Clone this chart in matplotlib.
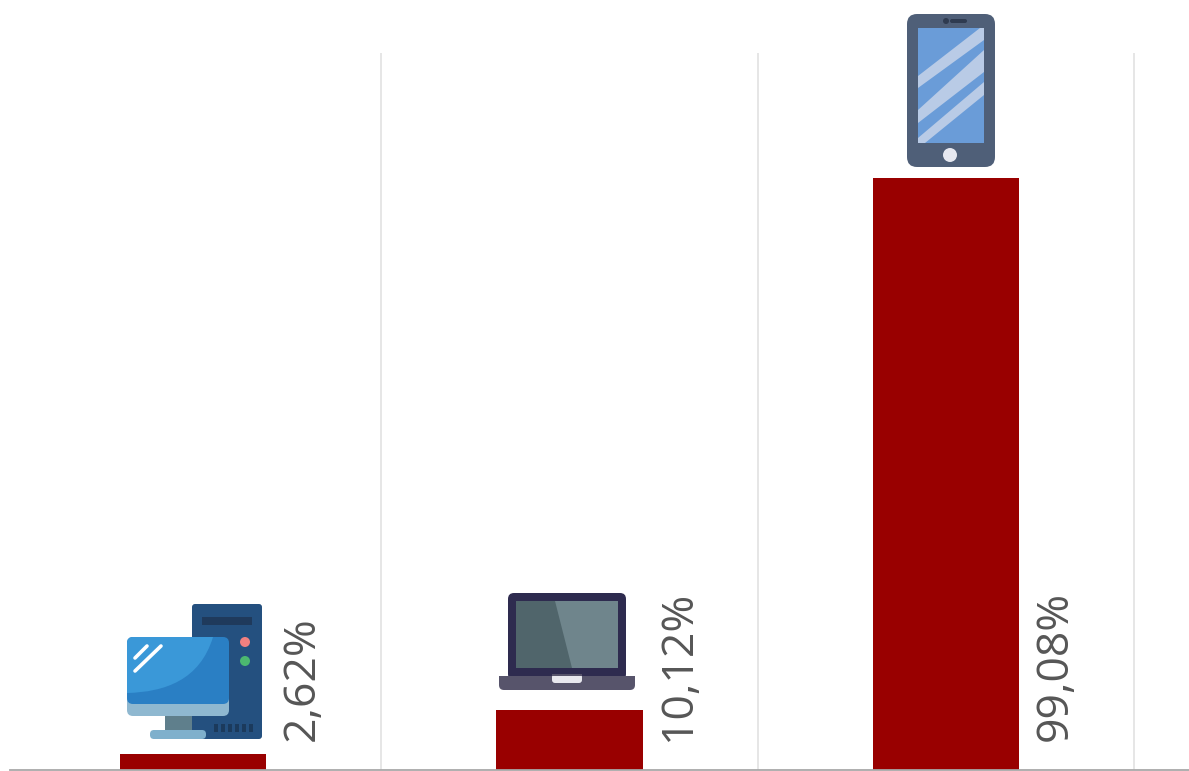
import matplotlib
matplotlib.use("Agg")
import matplotlib.pyplot as plt
from matplotlib.patches import Circle, FancyBboxPatch, PathPatch, Polygon, Rectangle
from matplotlib.path import Path

devices = ["Desktop", "Notebook", "Smartphone"]
shares = [2.62, 10.12, 99.08]
share_labels = ["2,62%", "10,12%", "99,08%"]

BAR_RED = "#990000"
TEXT_GREY = "#565656"
W, H = 1189, 771


def rounded(ax, x0, y0, x1, y1, radius, color, zorder=3):
    box = FancyBboxPatch((x0 + radius, y0 + radius), x1 - x0 - 2 * radius, y1 - y0 - 2 * radius,
                         boxstyle=f"round,pad={radius},rounding_size={radius}",
                         fc=color, ec="none", zorder=zorder)
    ax.add_patch(box)
    return box


def draw_desktop(ax):
    # tower
    rounded(ax, 192, 604, 262, 739, 3, "#24507f")
    ax.add_patch(Rectangle((202, 617), 50, 8, fc="#1f3a5c", ec="none", zorder=3))
    ax.add_patch(Circle((245, 642), 5, fc="#f08080", ec="none", zorder=3))
    ax.add_patch(Circle((245, 661), 5, fc="#4cb870", ec="none", zorder=3))
    for vent_x in range(214, 256, 7):
        ax.add_patch(Rectangle((vent_x, 724), 4, 8, fc="#1b3a5c", ec="none", zorder=3))
    # stand
    ax.add_patch(Rectangle((165, 714), 27, 17, fc="#5f7f8c", ec="none", zorder=3))
    rounded(ax, 150, 730, 206, 739, 4, "#7fb0cc")
    # monitor
    rounded(ax, 127, 680, 229, 716, 6, "#8fb8d0", zorder=4)
    screen = rounded(ax, 127, 637, 229, 704, 6, "#2a7fc4", zorder=4)
    verts = [(127, 637), (127, 693), (165, 692), (200, 680), (213, 637), (127, 637)]
    codes = [Path.MOVETO, Path.LINETO, Path.CURVE4, Path.CURVE4, Path.CURVE4, Path.CLOSEPOLY]
    highlight = PathPatch(Path(verts, codes), fc="#3a98d8", ec="none", zorder=4)
    ax.add_patch(highlight)
    highlight.set_clip_path(screen)
    ax.plot([135, 147], [658, 646], color="white", lw=2.6, solid_capstyle="round", zorder=5)
    ax.plot([135, 161], [671, 646], color="white", lw=2.6, solid_capstyle="round", zorder=5)


def draw_laptop(ax):
    rounded(ax, 508, 593, 626, 680, 6, "#2e2b4f")
    ax.add_patch(Rectangle((516, 601), 102, 67, fc="#6f858c", ec="none", zorder=3))
    ax.add_patch(Polygon([(516, 601), (555, 601), (572, 668), (516, 668)], fc="#50656b", ec="none", zorder=3))
    rounded(ax, 499, 676, 635, 690, 5, "#57546b")
    ax.add_patch(Rectangle((499, 676), 136, 6, fc="#57546b", ec="none", zorder=3))
    rounded(ax, 552, 674, 582, 683, 3, "#e8e8ee")
    ax.add_patch(Rectangle((552, 674), 30, 2, fc="#57546b", ec="none", zorder=3))


def draw_phone(ax):
    rounded(ax, 907, 14, 995, 167, 10, "#4f5f78")
    ax.add_patch(Rectangle((918, 28), 66, 115, fc="#6a9cd8", ec="none", zorder=3))
    stripes = [
        [(918, 76), (980, 28), (984, 28), (984, 40), (918, 88)],
        [(918, 110), (984, 50), (984, 72), (918, 123)],
        [(918, 138), (984, 82), (984, 95), (925, 143), (918, 143)],
    ]
    for stripe in stripes:
        ax.add_patch(Polygon(stripe, fc="#b9cbe6", ec="none", zorder=3))
    ax.add_patch(Circle((950, 155), 7, fc="#e6e8f0", ec="none", zorder=3))
    ax.add_patch(Circle((946, 21), 3, fc="#2f3b50", ec="none", zorder=3))
    rounded(ax, 950, 19, 967, 23, 2, "#2f3b50")


fig = plt.figure(figsize=(W / 100, H / 100), dpi=100, facecolor="white")

# plot area runs from the baseline up to the top of the gridlines
ax = fig.add_axes([10 / W, 1 / H, (W - 10) / W, 717 / H])
positions = list(range(len(devices)))
ax.bar(positions, shares, width=0.388, color=BAR_RED, zorder=2)
ax.set_xlim((10 - 193) / 376.5, (W - 193) / 376.5)
ax.set_ylim(0, 120)

ax.set_xticks([p + 0.5 for p in positions])
ax.grid(axis="x", color="#e2e2e2", lw=1.2, zorder=1)
ax.tick_params(left=False, bottom=False, labelleft=False, labelbottom=False)
for side in ["top", "right", "left"]:
    ax.spines[side].set_visible(False)
ax.spines["bottom"].set_color("#a8a8a8")
ax.spines["bottom"].set_linewidth(1.3)
ax.spines["bottom"].set_zorder(3)

# rotated value labels sit to the right of each bar
for pos, label in zip(positions, share_labels):
    ax.annotate(label, xy=(pos + 0.194, 0), xytext=(34, 21), textcoords="offset points",
                rotation=90, rotation_mode="anchor", ha="left", va="baseline",
                fontsize=32, family="Open Sans", color=TEXT_GREY, zorder=4)

# device icons, laid out in figure pixels
icons = fig.add_axes([0, 0, 1, 1], facecolor="none")
icons.set_xlim(0, W)
icons.set_ylim(H, 0)
icons.axis("off")
draw_desktop(icons)
draw_laptop(icons)
draw_phone(icons)

fig.savefig("out.png", dpi=100)
plt.close(fig)
